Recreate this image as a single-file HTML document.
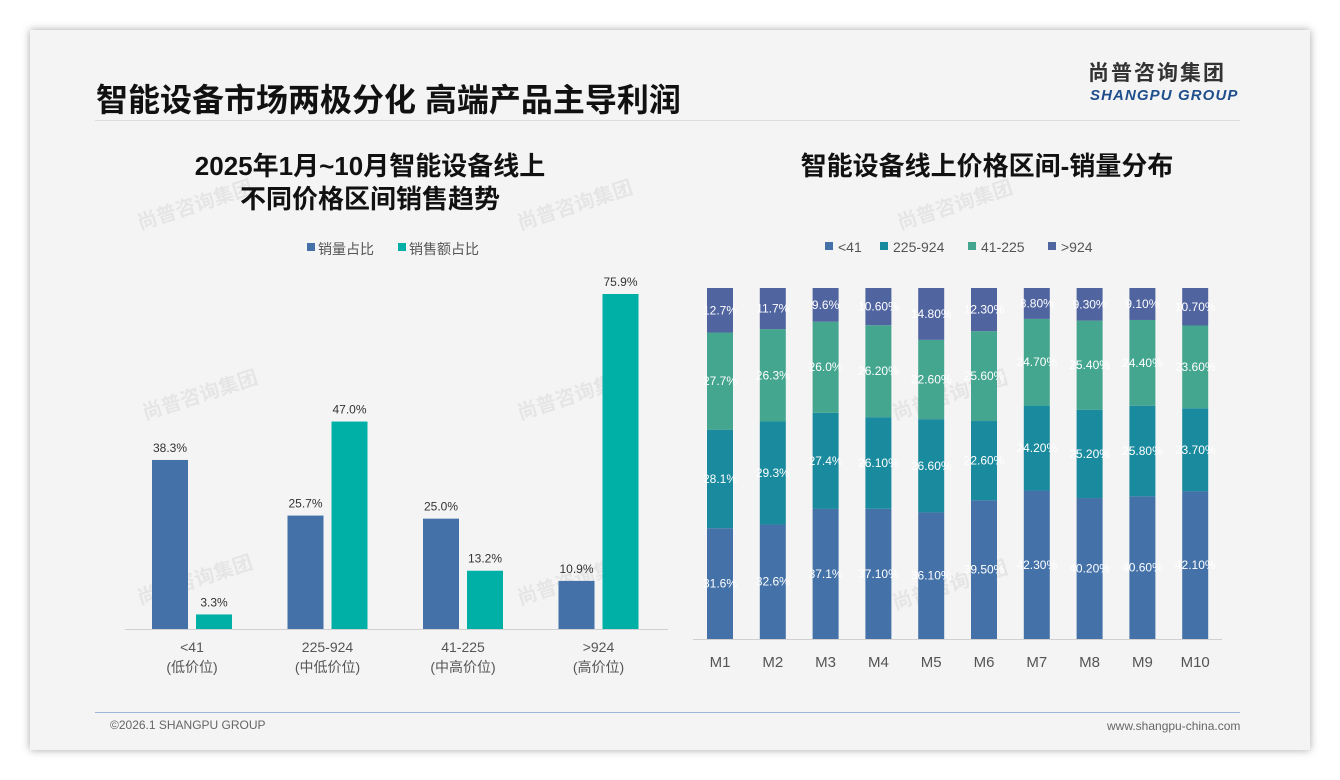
<!DOCTYPE html>
<html><head><meta charset="utf-8"><style>
body{margin:0;width:1340px;height:780px;background:#fff;font-family:"Liberation Sans","Noto Sans CJK SC",sans-serif;overflow:hidden}
#slide{position:absolute;left:30px;top:30px;width:1280px;height:720px;background:#f4f4f4;box-shadow:0 0 8px rgba(0,0,0,.35)}
.t{position:absolute;white-space:nowrap}
</style></head><body>
<div id="slide">
<div class="t" style="left:66px;top:45px;font-size:32px;font-weight:bold;color:#111">智能设备市场两极分化 高端产品主导利润</div>
<div class="t" style="left:1058px;top:32px;font-size:21px;line-height:24px;font-weight:bold;color:#333;letter-spacing:2px">尚普咨询集团</div>
<div class="t" style="left:1060px;top:57px;font-size:15px;font-weight:bold;font-style:italic;color:#1f4e8c;letter-spacing:1.1px">SHANGPU GROUP</div>
<div style="position:absolute;left:65px;top:90px;width:1145px;height:1px;background:#ddd"></div>
<div class="t" style="left:140px;top:120px;width:400px;text-align:center;font-size:26px;font-weight:bold;color:#111;line-height:33px">2025年1月~10月智能设备线上<br>不同价格区间销售趋势</div>
<div class="t" style="left:727px;top:120px;width:460px;text-align:center;font-size:26px;font-weight:bold;color:#111;line-height:33px">智能设备线上价格区间-销量分布</div>
<div style="position:absolute;left:65px;top:682px;width:1145px;height:1px;background:#9bb6d6"></div>
<div class="t" style="left:80px;top:688px;font-size:12px;color:#666">©2026.1 SHANGPU GROUP</div>
<div class="t" style="left:1077px;top:689px;font-size:12px;color:#666">www.shangpu-china.com</div>
</div>
<svg id="chart" width="1340" height="780" style="position:absolute;left:0;top:0" font-family="Liberation Sans, Noto Sans CJK SC, sans-serif"></svg>
<script>
const leftCats=["<41","225-924","41-225",">924"];
const leftSubs=["(低价位)","(中低价位)","(中高价位)","(高价位)"];
const volShare=[38.3,25.7,25.0,10.9];
const salesShare=[3.3,47.0,13.2,75.9];
const months=["M1","M2","M3","M4","M5","M6","M7","M8","M9","M10"];
const segLow=[31.6,32.6,37.1,37.1,36.1,39.5,42.3,40.2,40.6,42.1];
const segMidLow=[28.1,29.3,27.4,26.1,26.6,22.6,24.2,25.2,25.8,23.7];
const segMidHigh=[27.7,26.3,26.0,26.2,22.6,25.6,24.7,25.4,24.4,23.6];
const segHigh=[12.7,11.7,9.6,10.6,14.8,12.3,8.8,9.3,9.1,10.7];
const segLabels=[
["31.6%","32.6%","37.1%","37.10%","36.10%","39.50%","42.30%","40.20%","40.60%","42.10%"],
["28.1%","29.3%","27.4%","26.10%","26.60%","22.60%","24.20%","25.20%","25.80%","23.70%"],
["27.7%","26.3%","26.0%","26.20%","22.60%","25.60%","24.70%","25.40%","24.40%","23.60%"],
["12.7%","11.7%","9.6%","10.60%","14.80%","12.30%","8.80%","9.30%","9.10%","10.70%"]];
const NS="http://www.w3.org/2000/svg";const svg=document.getElementById('chart');
function mk(tag,a,txt){const e=document.createElementNS(NS,tag);for(const k in a)e.setAttribute(k,a[k]);if(txt!==undefined)e.textContent=txt;svg.appendChild(e);return e;}
[[140,230],[520,230],[900,230],[145,420],[520,420],[895,420],[140,605],[520,605],[895,610]].forEach(p=>{
const w=mk('text',{x:p[0],y:p[1],'font-size':20,fill:'#000','fill-opacity':0.06,'font-weight':'bold',transform:`rotate(-18 ${p[0]} ${p[1]})`},'尚普咨询集团');
});
const base=629,sc=335/75.9;const yL=v=>base-v*sc;const xG=i=>189+i*135.5;
let e=mk('line',{x1:125,y1:base+0.5,x2:668,y2:base+0.5,stroke:'#d0d0d0'});
e=mk('rect',{x:307,y:243,width:8,height:8,fill:'#4472a8'});
e=mk('text',{x:318,y:254,'font-size':14,fill:'#555'},'销量占比');
e=mk('rect',{x:398,y:243,width:8,height:8,fill:'#00b0a6'});
e=mk('text',{x:409,y:254,'font-size':14,fill:'#555'},'销售额占比');
leftCats.forEach((c,i)=>{const cx=xG(i);
e=mk('rect',{x:cx-37,y:yL(volShare[i]),width:36,height:volShare[i]*sc,fill:'#4472a8'});
e=mk('rect',{x:cx+7,y:yL(salesShare[i]),width:36,height:salesShare[i]*sc,fill:'#00b0a6'});
e=mk('text',{x:cx-19,y:yL(volShare[i])-8,'font-size':12,fill:'#333','text-anchor':'middle'},volShare[i].toFixed(1)+'%');
e=mk('text',{x:cx+25,y:yL(salesShare[i])-8,'font-size':12,fill:'#333','text-anchor':'middle'},salesShare[i].toFixed(1)+'%');
e=mk('text',{x:cx+3,y:652,'font-size':14,fill:'#555','text-anchor':'middle'},c);
e=mk('text',{x:cx+3,y:672,'font-size':14,fill:'#555','text-anchor':'middle'},leftSubs[i]);
});
const top0=288,bot=639;const xM=i=>720+i*52.8;
e=mk('line',{x1:693,y1:bot+0.5,x2:1222,y2:bot+0.5,stroke:'#d0d0d0'});
const segs=[segLow,segMidLow,segMidHigh,segHigh];const cols=['#4472a8','#1a8a9e','#45a68f','#5064a0'];
const legNames=['<41','225-924','41-225','>924'];const legX=[825,880,968,1048];
legNames.forEach((n,k)=>{e=mk('rect',{x:legX[k],y:242,width:8,height:8,fill:cols[k]});
e=mk('text',{x:legX[k]+13,y:252,'font-size':14,fill:'#555'},n);});
months.forEach((m,i)=>{const tot=segs.reduce((s,a)=>s+a[i],0);let y=bot;
segs.forEach((a,k)=>{const h=a[i]/tot*(bot-top0);y-=h;
e=mk('rect',{x:xM(i)-13,y:y,width:26,height:h,fill:cols[k]});
e=mk('text',{x:xM(i),y:y+h/2+4,'font-size':12,fill:'#fff','text-anchor':'middle'},segLabels[k][i]);});
e=mk('text',{x:xM(i),y:667,'font-size':15,fill:'#555','text-anchor':'middle'},m);});
</script>
</body></html>
